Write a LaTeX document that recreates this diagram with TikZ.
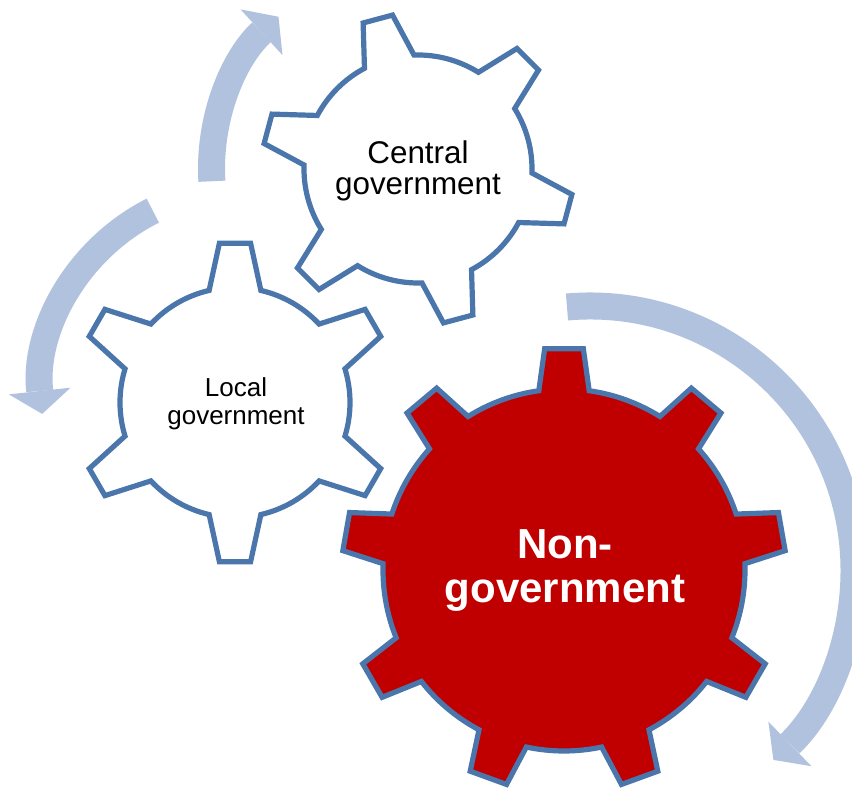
\documentclass[tikz,border=0pt]{standalone}
\usepackage{fontspec}
\setmainfont{Liberation Sans}
\usetikzlibrary{arrows.meta}

\definecolor{cogblue}{RGB}{74,118,172}
\definecolor{cogred}{RGB}{192,0,0}
\definecolor{flowblue}{RGB}{177,194,222}

\tikzstyle{cog}=[draw=cogblue, line width=2.6pt, line join=miter, fill=white]
\tikzstyle{red cog}=[cog, fill=cogred]
\tikzstyle{flow}=[draw=flowblue, line width=13.5pt, -{Triangle[length=11.5pt, width=31pt, line width=0pt]}]
\tikzstyle{cog label}=[align=center, inner sep=0pt]

% #1 style, #2 centre, #3 teeth, #4 first tooth angle,
% #5 root radius, #6 tip radius, #7 half angle at root, #8 half angle at tip
\newcommand{\drawcog}[8]{%
  \draw[#1] ([shift={(#2)}]#4-#7:#5)
    \foreach \k [evaluate=\k as \ang using #4+(\k-1)*360/#3] in {1,...,#3} {
      -- ([shift={(#2)}]\ang-#8:#6) -- ([shift={(#2)}]\ang+#8:#6)
      -- ([shift={(#2)}]\ang+#7:#5)
      arc[start angle=\ang+#7, end angle=\ang+360/#3-#7, radius=#5]
    } -- cycle;}

\begin{document}
\begin{tikzpicture}[x=0.5pt, y=0.5pt]
      \useasboundingbox (0,0) rectangle (852,-795);
      \clip (0,0) rectangle (852,-795);

      \coordinate (central) at (418,-169);
      \coordinate (local) at (235,-402.5);
      \coordinate (nongov) at (564,-570);

      \coordinate (left hub) at (244,-392);
      \coordinate (right hub) at (590,-570);

      % turning arrows
      \draw[flow] ([shift={(central)}]183.4:206.5) arc[start angle=183.4, end angle=132.5, radius=206.5];
      \draw[flow] ([shift={(left hub)}]116.7:203) arc[start angle=116.7, end angle=186.2, radius=203];
      \draw[flow] ([shift={(right hub)}]95:264) arc[start angle=95, end angle=-46, radius=264];

      % cogs
      \drawcog{cog}{central}{6}{105}{114}{156}{13}{5.6}
      \drawcog{cog}{local}{6}{90}{115}{160}{13}{5.6}
      \drawcog{red cog}{nongov}{9}{90}{181}{222}{8}{5}

      \node[cog label, font=\fontsize{15.7}{15.5}\selectfont] (central label) at (418,-170.6) {Central\\government};
      \node[cog label, font=\fontsize{13}{13.8}\selectfont] (local label) at (236,-403.7) {Local\\government};
      \node[cog label, text=white, font=\fontsize{21}{21.7}\selectfont\bfseries] (nongov label) at (565,-570.7) {Non-\\government};
    \end{tikzpicture}
\end{document}
